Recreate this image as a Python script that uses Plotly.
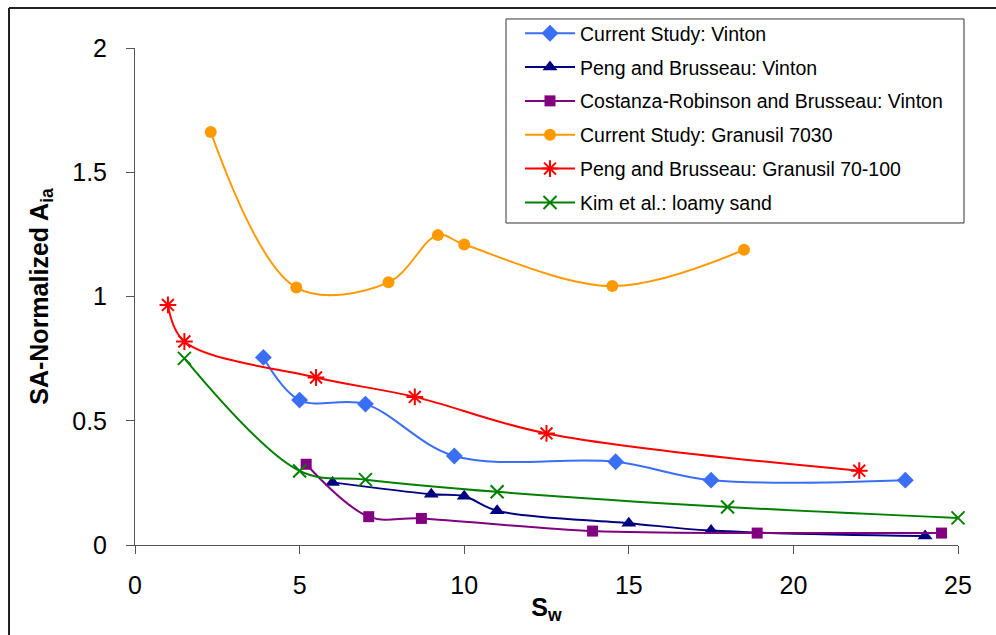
import plotly.graph_objects as go

# ---- data ----
cs_vinton_x = [3.9, 5.0, 7.0, 9.7, 14.6, 17.5, 23.4]
cs_vinton_y = [0.755, 0.583, 0.567, 0.358, 0.335, 0.261, 0.261]

pb_vinton_x = [6.0, 9.0, 10.0, 11.0, 15.0, 17.5, 24.0]
pb_vinton_y = [0.252, 0.204, 0.196, 0.138, 0.088, 0.058, 0.036]

crb_vinton_x = [5.2, 7.1, 8.7, 13.9, 18.9, 24.5]
crb_vinton_y = [0.325, 0.114, 0.107, 0.056, 0.048, 0.048]

cs_gran_x = [2.3, 4.9, 7.7, 9.2, 10.0, 14.5, 18.5]
cs_gran_y = [1.662, 1.036, 1.057, 1.247, 1.209, 1.042, 1.188]

pb_gran_x = [1.0, 1.5, 5.5, 8.5, 12.5, 22.0]
pb_gran_y = [0.966, 0.819, 0.674, 0.596, 0.449, 0.299]

kim_x = [1.5, 5.0, 7.0, 11.0, 18.0, 25.0]
kim_y = [0.751, 0.298, 0.263, 0.214, 0.153, 0.109]

series = [
    ("Current Study: Vinton", cs_vinton_x, cs_vinton_y, "#3A6EF5", "diamond", 13, False),
    ("Peng and Brusseau: Vinton", pb_vinton_x, pb_vinton_y, "#000080", "triangle-up", 13, False),
    ("Costanza-Robinson and Brusseau: Vinton", crb_vinton_x, crb_vinton_y, "#800080", "square", 11, False),
    ("Current Study: Granusil 7030", cs_gran_x, cs_gran_y, "#FF9900", "circle", 12, False),
    ("Peng and Brusseau: Granusil 70-100", pb_gran_x, pb_gran_y, "#FF0000", "asterisk-open", 14, True),
    ("Kim et al.: loamy sand", kim_x, kim_y, "#008000", "x-thin-open", 13, True),
]

FONT = "Liberation Sans, Arial, sans-serif"

fig = go.Figure()
for i, (name, xs, ys, col, sym, sz, openm) in enumerate(series):
    fig.add_trace(go.Scatter(
        x=xs, y=ys, name=name, mode="lines+markers",
        line=dict(color=col, width=2, shape="spline", smoothing=1.0),
        marker=dict(symbol=sym, size=sz, color=col,
                    line=dict(color=col, width=2 if openm else 0)),
        legendgroup=f"g{i}", cliponaxis=False,
    ))

fig.update_layout(
    width=996, height=635,
    margin=dict(l=135, r=38, t=48, b=90, autoexpand=False),
    paper_bgcolor="white", plot_bgcolor="white",
    font=dict(family=FONT, color="black"),
    showlegend=True,
    legend=dict(
        x=0.4678, y=1.0684, xanchor="left", yanchor="top",
        borderwidth=0, bgcolor="rgba(0,0,0,0)",
        font=dict(size=19.5, family=FONT),
        traceorder="grouped", tracegroupgap=5.5,
        itemwidth=50,
    ),
    xaxis=dict(
        range=[0, 25], dtick=5, tick0=0,
        showgrid=False, zeroline=False, automargin=False,
        showline=True, linecolor="#555555", linewidth=1,
        ticks="outside", ticklen=8, tickcolor="#555555",
        tickfont=dict(size=25, family=FONT),
        ticklabelstandoff=10,
        title=dict(text="<b>S<sub>w</sub></b>", font=dict(size=25, family=FONT), standoff=0),
    ),
    yaxis=dict(
        range=[0, 2], dtick=0.5, tick0=0,
        showgrid=False, zeroline=False, automargin=False,
        showline=True, linecolor="#555555", linewidth=1,
        ticks="outside", ticklen=8, tickcolor="#555555",
        tickfont=dict(size=25, family=FONT),
        ticklabelstandoff=14,
        title=dict(text="<b>SA-Normalized A<sub>ia</sub></b>", font=dict(size=25, family=FONT), standoff=16),
    ),
    shapes=[
        # outer chart-area border (clipped at right and bottom in the reference)
        dict(type="line", xref="paper", yref="paper", x0=-0.1531, x1=1.1, y0=1.0805, y1=1.0805,
             line=dict(color="#222222", width=2)),
        dict(type="line", xref="paper", yref="paper", x0=-0.1531, x1=-0.1531, y0=1.0805, y1=-0.3,
             line=dict(color="#222222", width=2)),
        # legend box
        dict(type="rect", xref="paper", yref="paper", x0=0.4508, x1=1.0073, y0=0.6479, y1=1.0584,
             line=dict(color="#333333", width=1), fillcolor="white", layer="below"),
    ],
)

fig.write_html("out.html")
